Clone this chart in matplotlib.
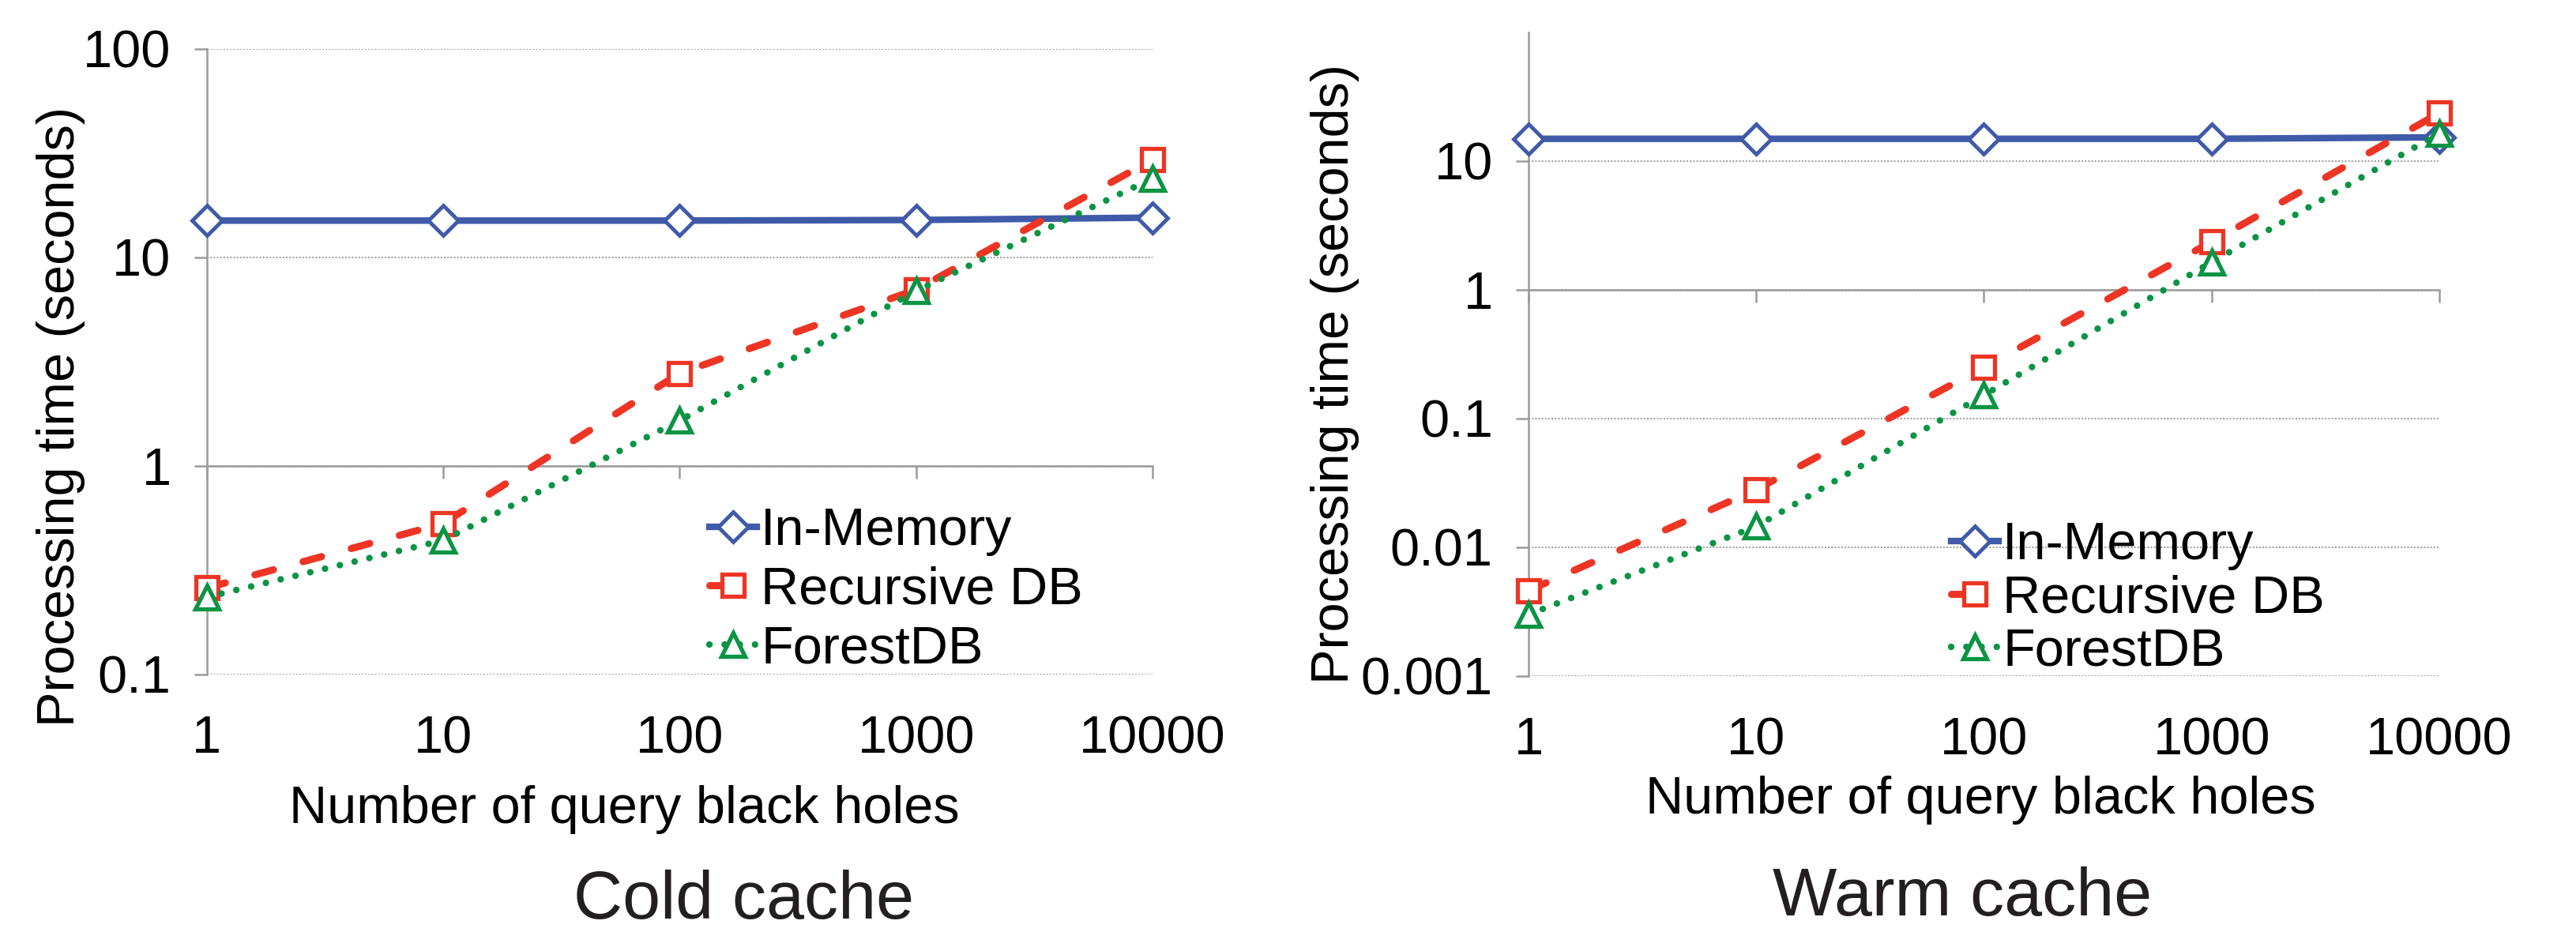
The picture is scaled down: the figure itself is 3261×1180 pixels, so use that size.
import matplotlib
matplotlib.use("Agg")
import matplotlib.pyplot as plt
from matplotlib.ticker import FixedLocator, NullLocator, FixedFormatter

plt.rcParams['font.family'] = ['Liberation Sans', 'DejaVu Sans']

# ---------------- data ----------------
x_vals = [1, 10, 100, 1000, 10000]
x_labels = ["1", "10", "100", "1000", "10000"]
series_names = ["In-Memory", "Recursive DB", "ForestDB"]

cold_inmemory = [15.0, 15.0, 15.0, 15.1, 15.5]
cold_recursive = [0.26, 0.53, 2.78, 7.0, 29.4]
cold_forest = [0.235, 0.44, 1.65, 6.9, 23.9]

warm_inmemory = [14.9, 14.9, 14.9, 14.9, 15.3]
warm_recursive = [0.0046, 0.028, 0.25, 2.36, 23.6]
warm_forest = [0.0030, 0.0145, 0.152, 1.64, 16.4]

cold_yticks = [0.1, 1, 10, 100]
cold_ylabels = ["0.1", "1", "10", "100"]
warm_yticks = [0.001, 0.01, 0.1, 1, 10]
warm_ylabels = ["0.001", "0.01", "0.1", "1", "10"]

xlabel = "Number of query black holes"
ylabel = "Processing time (seconds)"
titles = ["Cold cache", "Warm cache"]

# ---------------- style ----------------
W, H = 3262, 1180
BLUE = '#3F5AA8'
RED = '#EE3524'
GREEN = '#0B9444'
AXIS_GRAY = '#9B9B9B'
GRID_GRAY = '#A3A3A3'
FS = 48

fig = plt.figure(figsize=(W / 100, H / 100), dpi=100)


def px_axes(x0, x1, ytop, ybot):
    return fig.add_axes([x0 / W, 1 - ybot / H, (x1 - x0) / W, (ybot - ytop) / H])


def style_axes(ax, ymin, yticks, ylabels):
    ax.set_xscale('log')
    ax.set_yscale('log')
    ax.set_xlim(1, 10000)
    ax.set_ylim(ymin, 100)
    for s in ['right', 'bottom']:
        ax.spines[s].set_visible(False)
    ax.spines['left'].set_color(AXIS_GRAY)
    ax.spines['left'].set_linewidth(1.8)
    ax.spines['top'].set_position(('data', 1))
    ax.spines['top'].set_color(AXIS_GRAY)
    ax.spines['top'].set_linewidth(1.8)
    ax.xaxis.set_major_locator(FixedLocator(x_vals))
    ax.xaxis.set_major_formatter(FixedFormatter(x_labels))
    ax.xaxis.set_minor_locator(NullLocator())
    ax.yaxis.set_major_locator(FixedLocator(yticks))
    ax.yaxis.set_major_formatter(FixedFormatter(ylabels))
    ax.yaxis.set_minor_locator(NullLocator())
    ax.tick_params(axis='x', which='major', top=True, bottom=False,
                   labeltop=False, labelbottom=True, direction='in',
                   length=11.5, width=1.8, color=AXIS_GRAY, pad=37,
                   labelsize=FS)
    ax.tick_params(axis='y', which='major', left=True, right=False,
                   direction='out', length=11.5, width=1.8,
                   color=AXIS_GRAY, pad=21, labelsize=FS)
    ax.grid(axis='y', which='major', linestyle=(0, (1, 1)),
            color=GRID_GRAY, linewidth=1.5)
    ax.set_axisbelow(True)
    ax.patch.set_alpha(0)


def plot_series(ax, inmem, rec, forest):
    h1, = ax.plot(x_vals, inmem, color=BLUE, lw=6, marker='D', ms=19,
                  mfc='white', mec=BLUE, mew=3.5, clip_on=False, zorder=3,
                  label=series_names[0])
    h2, = ax.plot(x_vals, rec, color=RED, lw=6.5, marker='s', ms=20.5,
                  mfc='white', mec=RED, mew=3.8, clip_on=False, zorder=4,
                  dashes=(2.7, 4.3), dash_capstyle='round',
                  label=series_names[1])
    h3, = ax.plot(x_vals, forest, color=GREEN, lw=6, marker='^', ms=21,
                  mfc='white', mec=GREEN, mew=3.8, clip_on=False, zorder=5,
                  dashes=(0.01, 2.3), dash_capstyle='round',
                  label=series_names[2])
    return [h1, h2, h3]


# ---------------- cold cache ----------------
ax1 = px_axes(261.7, 1459, 61.7, 854)
style_axes(ax1, 0.1, cold_yticks, cold_ylabels)
hs = plot_series(ax1, cold_inmemory, cold_recursive, cold_forest)
ax1.legend(handles=hs, loc='upper left',
           bbox_to_anchor=(898 / W, 1 - 642 / H), bbox_transform=fig.transFigure,
           frameon=False, borderpad=0, borderaxespad=0, fontsize=FS,
           handlelength=0.9, handletextpad=0.08, labelspacing=0.19,
           numpoints=1)

# ---------------- warm cache ----------------
ax2 = px_axes(1935, 3088, 41, 855.7)
style_axes(ax2, 0.001, warm_yticks, warm_ylabels)
hs = plot_series(ax2, warm_inmemory, warm_recursive, warm_forest)
ax2.legend(handles=hs, loc='upper left',
           bbox_to_anchor=(2470 / W, 1 - 660 / H), bbox_transform=fig.transFigure,
           frameon=False, borderpad=0, borderaxespad=0, fontsize=FS,
           handlelength=0.9, handletextpad=0.08, labelspacing=0.08,
           numpoints=1)

# ---------------- labels ----------------
fig.text(790 / W, 1 - 1042 / H, xlabel, ha='center', va='baseline', fontsize=FS)
fig.text(2507 / W, 1 - 1030 / H, xlabel, ha='center', va='baseline', fontsize=FS)
fig.text(77 / W, 1 - 527 / H, ylabel, ha='center', va='center', rotation=90, fontsize=FS)
fig.text(1690 / W, 1 - 474 / H, ylabel, ha='center', va='center', rotation=90, fontsize=FS)
fig.text(942 / W, 1 - 1163 / H, titles[0], ha='center', va='baseline', fontsize=62, color='#231F20')
fig.text(2484 / W, 1 - 1159 / H, titles[1], ha='center', va='baseline', fontsize=62, color='#231F20')

fig.savefig("out.png", dpi=100)
